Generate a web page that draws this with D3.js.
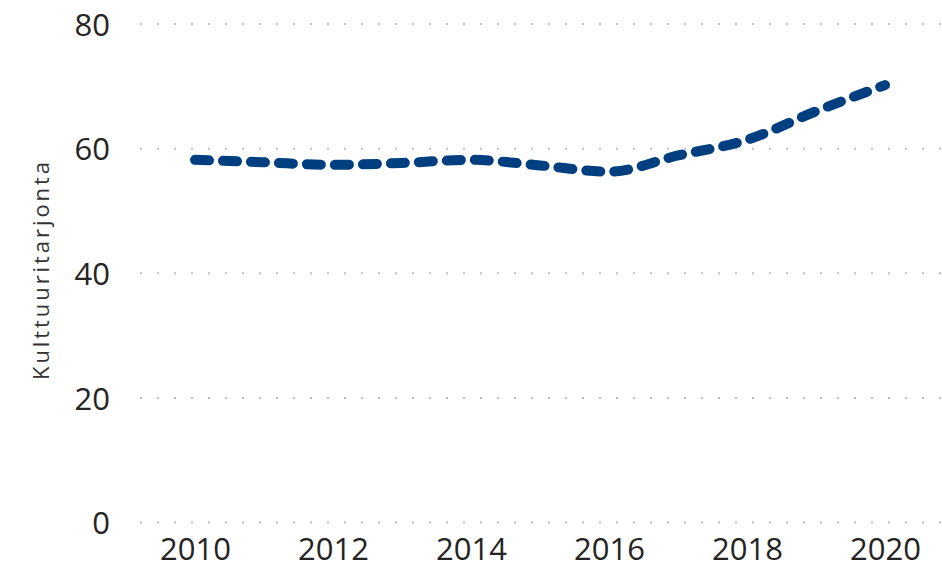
<!DOCTYPE html>
<html><head><meta charset="utf-8">
<script src="https://cdn.jsdelivr.net/npm/d3@7"></script>
<style>body{margin:0;background:#fff}svg{display:block}</style>
</head><body>
<svg id="c" width="942" height="570"></svg>
<script>
const years = [2010,2011,2012,2013,2014,2015,2016,2017,2018,2019,2020];
const values = [58.2,57.8,57.4,57.7,58.2,57.3,56.3,58.9,61.4,66.0,70.2];
const yTicks = [0,20,40,60,80];
const xTicks = [2010,2012,2014,2016,2018,2020];
const yTitle = "Kulttuuritarjonta";

const svg = d3.select("#c");
const x = d3.scaleLinear().domain([2010,2020]).range([195,885]);
const y = d3.scaleLinear().domain([0,80]).range([522.5,24]);
const font = "'Open Sans', 'Noto Sans', sans-serif";

const yAxis = d3.axisLeft(y).tickValues(yTicks).tickSize(0).tickPadding(0).tickFormat(d3.format("d"));
const gy = svg.append("g").attr("transform","translate(110,0)").call(yAxis);
gy.select(".domain").remove();
gy.selectAll("text").attr("x",0).attr("dy","0.36em").attr("font-family",font).attr("font-size",31).attr("fill","#252423");

svg.append("g").selectAll("line").data(yTicks).join("line")
  .attr("x1",140).attr("x2",942).attr("y1",d=>y(d)).attr("y2",d=>y(d))
  .attr("stroke","#c0c0c0").attr("stroke-width",2).attr("stroke-dasharray","2 15");

const xAxis = d3.axisBottom(x).tickValues(xTicks).tickSize(0).tickPadding(0).tickFormat(d3.format("d"));
const gx = svg.append("g").attr("transform","translate(0,531)").call(xAxis);
gx.select(".domain").remove();
gx.selectAll("text").attr("y",0).attr("dy","0.95em").attr("font-family",font).attr("font-size",31).attr("fill","#252423");

svg.append("text").attr("transform","translate(49,271) rotate(-90)")
  .attr("text-anchor","middle").attr("font-family",font).attr("font-size",22).attr("fill","#333333")
  .attr("textLength",218).attr("lengthAdjust","spacing")
  .text(yTitle);

const line = d3.line().x((d,i)=>x(years[i])).y(d=>y(d)).curve(d3.curveMonotoneX);
svg.append("path").datum(values).attr("d",line)
  .attr("fill","none").attr("stroke","#003f7f").attr("stroke-width",10)
  .attr("stroke-linecap","round").attr("stroke-dasharray","14 14");
</script>
</body></html>
